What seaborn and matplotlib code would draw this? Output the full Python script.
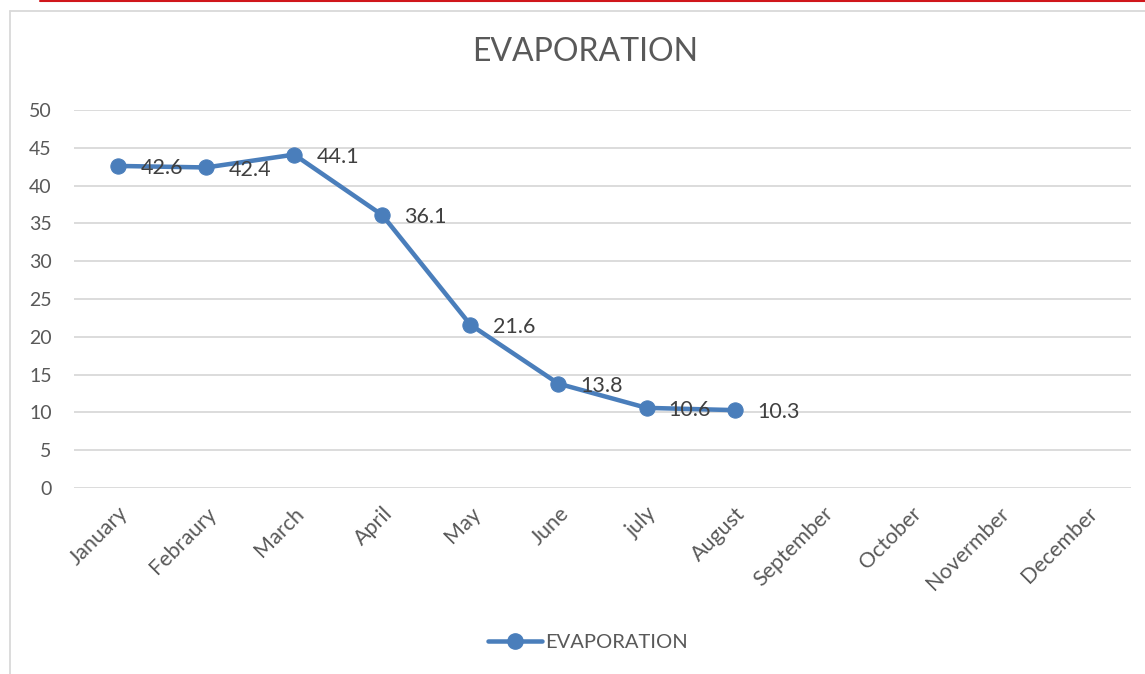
import matplotlib
matplotlib.use("Agg")
import matplotlib.pyplot as plt
import seaborn as sns
import pandas as pd
from matplotlib.lines import Line2D

months = ["January", "Febraury", "March", "April", "May", "June", "july",
          "August", "September", "October", "Novermber", "December"]
evaporation = [42.6, 42.4, 44.1, 36.1, 21.6, 13.8, 10.6, 10.3]
series_name = "EVAPORATION"
yticks = [0, 5, 10, 15, 20, 25, 30, 35, 40, 45, 50]

sns.set_theme(style="white")
plt.rcParams['font.family'] = ['Lato', 'DejaVu Sans']

W, H = 1145, 674
fig = plt.figure(figsize=(W / 100, H / 100), dpi=100)
ax = fig.add_axes([74 / W, 1 - 488 / H, (1131 - 74) / W, (488 - 110) / H])

df = pd.DataFrame({"month": months[:len(evaporation)], "value": evaporation})
df["x"] = range(len(df))
color = "#4A7EBB"
grey = "#595959"

sns.lineplot(data=df, x="x", y="value", ax=ax, color=color, linewidth=3.25,
             marker="o", markersize=11, markeredgecolor=color, label=series_name,
             legend=False)

for xi, v in zip(df["x"], df["value"]):
    ax.annotate(f"{v}", (xi, v), xytext=(16, -1.5), textcoords="offset points",
                ha="left", va="center", fontsize=15.5, color="#404040")

ax.set_xlim(-0.5, len(months) - 0.5)
ax.set_ylim(0, 50)
ax.set_yticks(yticks)
ax.set_yticklabels([str(t) for t in yticks], fontsize=14, color=grey)
ax.set_xticks(range(len(months)))
ax.set_xticklabels(months, rotation=45, ha="right", rotation_mode="anchor",
                   fontsize=15.5, color=grey)
ax.tick_params(axis="y", length=0, pad=16)
ax.tick_params(axis="x", length=0, pad=11)
ax.grid(axis="y", color="#D9D9D9", linewidth=1.3)
ax.grid(axis="x", visible=False)
for s in ax.spines.values():
    s.set_visible(False)
ax.set_xlabel("")
ax.set_ylabel("")

fig.text(585 / W, 1 - 52 / H, "EVAPORATION", ha="center", va="center",
         fontsize=23, color=grey)

# legend
handle = Line2D([], [], color=color, linewidth=3.25, marker="o", markersize=11)
fig.legend([handle], [series_name], loc="center", bbox_to_anchor=(588 / W, 1 - 642 / H),
           frameon=False, fontsize=14.5, labelcolor=grey, handlelength=2.7,
           handletextpad=0.15)

# chart border and red top line
fig.add_artist(Line2D([9.5 / W, 9.5 / W], [1 - 11 / H, 0], color="#D9D9D9", linewidth=1.3))
fig.add_artist(Line2D([9.5 / W, 1], [1 - 11 / H, 1 - 11 / H], color="#D9D9D9", linewidth=1.3))
fig.add_artist(Line2D([40 / W, 1], [1 - 0.8 / H, 1 - 0.8 / H], color="#D0161B", linewidth=1.5))

fig.savefig("out.png", dpi=100)
